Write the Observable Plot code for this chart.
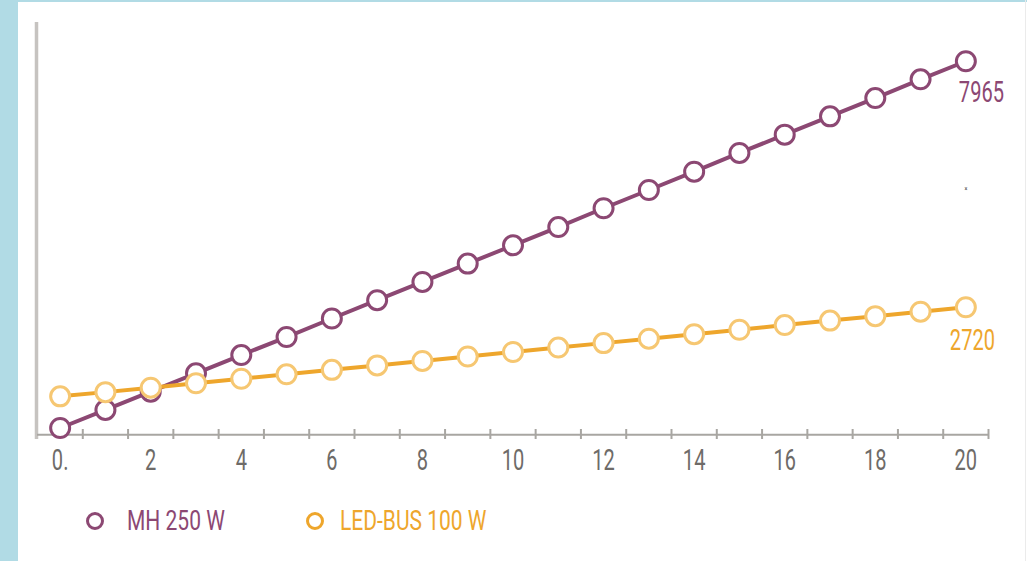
<!DOCTYPE html>
<html><head><meta charset="utf-8">
<script src="https://cdn.jsdelivr.net/npm/d3@7"></script>
<script src="https://cdn.jsdelivr.net/npm/@observablehq/plot@0.6"></script>
<style>
body{margin:0;background:#fff;}
#wrap{position:relative;width:1027px;height:561px;overflow:hidden;background:#fff;font-family:Roboto,"DejaVu Sans",sans-serif;}
#lstrip{position:absolute;left:0;top:0;width:18px;height:561px;background:#b1dbe5;}
#tstrip{position:absolute;left:0;top:0;width:1027px;height:2px;background:#b1dbe5;}
#rline{position:absolute;left:1025px;top:0;width:1px;height:561px;background:#ebebeb;}
#chart{position:absolute;left:0;top:0;}
.item{position:absolute;top:507px;height:28px;line-height:28px;font-size:28px;font-weight:400;white-space:nowrap;}
.sw{position:absolute;top:5px;width:12px;height:12px;border-radius:50%;border:3px solid;}
.lab{position:absolute;top:0;transform:scaleX(0.75);transform-origin:0 50%;}
</style>
</head><body>
<div id="wrap">
  <div id="lstrip"></div><div id="tstrip"></div><div id="rline"></div>
  <div id="chart"></div>
  <div id="legend"></div>
</div>
<script>
const years = [0,1,2,3,4,5,6,7,8,9,10,11,12,13,14,15,16,17,18,19,20];
const mhValues = [145,530,920,1310,1700,2085,2480,2870,3260,3650,4040,4430,4830,5220,5610,6010,6400,6790,7180,7580,7965];
const ledValues = [820,910,1005,1100,1195,1290,1385,1480,1575,1670,1765,1860,1955,2050,2145,2240,2340,2435,2530,2625,2720];
const tickValues = [0,2,4,6,8,10,12,14,16,18,20];
const tickLabels = ["0.","2","4","6","8","10","12","14","16","18","20"];
const bandEdges = [0.5,1.5,2.5,3.5,4.5,5.5,6.5,7.5,8.5,9.5,10.5,11.5,12.5,13.5,14.5,15.5,16.5,17.5,18.5,19.5,20.5];
const seriesNames = ["MH 250 W","LED-BUS 100 W"];
const seriesColors = ["#8c4873","#eea62c"];
const ledDotColor = "#f6c772";
const stray = [{x:20, y:5250}];

const data = years.map((x,i)=>({x, mh: mhValues[i], led: ledValues[i]}));
const last = data[data.length-1];
const font = 'Roboto,"DejaVu Sans",sans-serif';

const chart = Plot.plot({
  width:1027, height:490,
  marginLeft:37, marginRight:39, marginTop:22, marginBottom:51,
  x:{domain:[-0.5,20.5], axis:null},
  y:{domain:[-100,8791], axis:null},
  style:{fontFamily:font, background:"transparent"},
  marks:[
    Plot.ruleX([-0.5],{stroke:"#c6c3c0", strokeWidth:3.5, dx:-1}),
    Plot.ruleY([0],{x1:-0.5, x2:20.5, stroke:"#a8a6a2", strokeWidth:2}),
    Plot.axisX({ticks:bandEdges, tickSize:-10, tickFormat:()=>"", label:null, stroke:"#a8a6a2", strokeWidth:2}),
    Plot.axisX({ticks:tickValues, tickSize:0, tickPadding:10, label:null, tickFormat:(d,i)=>tickLabels[i], fill:"#6e6b68", fontSize:29.5}),
    Plot.line(data,{x:"x", y:"mh", stroke:seriesColors[0], strokeWidth:4}),
    Plot.dot(data,{x:"x", y:"mh", r:9.5, fill:"white", stroke:seriesColors[0], strokeWidth:3}),
    Plot.line(data,{x:"x", y:"led", stroke:seriesColors[1], strokeWidth:4}),
    Plot.dot(data,{x:"x", y:"led", r:9.5, fill:"white", stroke:ledDotColor, strokeWidth:3}),
    Plot.text([last],{x:"x", y:"mh", text:d=>String(d.mh), textAnchor:"start", dx:-7, dy:31, fill:seriesColors[0], fontSize:29.5}),
    Plot.text([last],{x:"x", y:"led", text:d=>String(d.led), textAnchor:"start", dx:-16, dy:33, fill:seriesColors[1], fontSize:29.5}),
    Plot.text(stray,{x:"x", y:"y", text:()=>"×", fill:"#444", fontSize:8})
  ]
});
chart.querySelectorAll("text").forEach(t=>{
  const tr = t.getAttribute("transform") || "";
  t.setAttribute("transform", tr + " scale(0.68,1)");
});
document.getElementById("chart").appendChild(chart);

const legend = document.getElementById("legend");
const pos = [{c:86, t:126.7},{c:306, t:340}];
seriesNames.forEach((name,i)=>{
  const it = document.createElement("div");
  it.className="item";
  it.style.left="0px";
  const sw = document.createElement("div");
  sw.className="sw"; sw.style.left=pos[i].c+"px"; sw.style.borderColor=seriesColors[i];
  const lab = document.createElement("div");
  lab.className="lab"; lab.style.left=pos[i].t+"px"; lab.style.color=seriesColors[i];
  lab.textContent=name;
  it.appendChild(sw); it.appendChild(lab);
  legend.appendChild(it);
});
</script>
</body></html>
